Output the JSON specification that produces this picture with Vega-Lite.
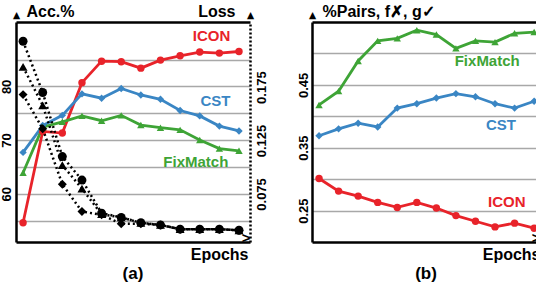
{
  "$schema": "https://vega.github.io/schema/vega-lite/v6.json",
  "padding": {"left": 0, "top": 3, "right": 0, "bottom": 0},
  "spacing": 28,
  "config": {
    "font": "Liberation Sans",
    "view": {"stroke": null},
    "axis": {
      "labelFont": "Liberation Sans", "labelFontWeight": "bold", "labelFontSize": 13, "labelColor": "black",
      "titleFont": "Liberation Sans", "titleFontWeight": "bold", "titleFontSize": 16, "titleColor": "black",
      "domainColor": "black", "domainWidth": 2.5, "ticks": false,
      "gridColor": "#a8a8a8", "gridWidth": 1.5
    },
    "title": {"font": "Liberation Sans", "fontWeight": "bold", "fontSize": 17, "color": "black"}
  },
  "datasets": {
    "main": [
      {"epoch": 1, "method": "ICON", "acc": 54.6, "loss": 0.218, "pairs": 0.301},
      {"epoch": 2, "method": "ICON", "acc": 71.6, "loss": 0.170, "pairs": 0.281},
      {"epoch": 3, "method": "ICON", "acc": 71.3, "loss": 0.110, "pairs": 0.273},
      {"epoch": 4, "method": "ICON", "acc": 80.7, "loss": 0.088, "pairs": 0.263},
      {"epoch": 5, "method": "ICON", "acc": 84.7, "loss": 0.057, "pairs": 0.255},
      {"epoch": 6, "method": "ICON", "acc": 84.6, "loss": 0.053, "pairs": 0.263},
      {"epoch": 7, "method": "ICON", "acc": 83.4, "loss": 0.048, "pairs": 0.254},
      {"epoch": 8, "method": "ICON", "acc": 84.9, "loss": 0.046, "pairs": 0.242},
      {"epoch": 9, "method": "ICON", "acc": 85.7, "loss": 0.042, "pairs": 0.233},
      {"epoch": 10, "method": "ICON", "acc": 86.4, "loss": 0.042, "pairs": 0.224},
      {"epoch": 11, "method": "ICON", "acc": 86.2, "loss": 0.042, "pairs": 0.230},
      {"epoch": 12, "method": "ICON", "acc": 86.5, "loss": 0.041, "pairs": 0.222},
      {"epoch": 1, "method": "CST", "acc": 67.7, "loss": 0.168, "pairs": 0.369},
      {"epoch": 2, "method": "CST", "acc": 72.7, "loss": 0.136, "pairs": 0.380},
      {"epoch": 3, "method": "CST", "acc": 74.6, "loss": 0.084, "pairs": 0.389},
      {"epoch": 4, "method": "CST", "acc": 78.6, "loss": 0.0585, "pairs": 0.383},
      {"epoch": 5, "method": "CST", "acc": 77.8, "loss": 0.0555, "pairs": 0.413},
      {"epoch": 6, "method": "CST", "acc": 79.6, "loss": 0.047, "pairs": 0.420},
      {"epoch": 7, "method": "CST", "acc": 78.4, "loss": 0.047, "pairs": 0.429},
      {"epoch": 8, "method": "CST", "acc": 77.6, "loss": 0.046, "pairs": 0.436},
      {"epoch": 9, "method": "CST", "acc": 75.5, "loss": 0.042, "pairs": 0.431},
      {"epoch": 10, "method": "CST", "acc": 74.5, "loss": 0.042, "pairs": 0.420},
      {"epoch": 11, "method": "CST", "acc": 72.6, "loss": 0.042, "pairs": 0.413},
      {"epoch": 12, "method": "CST", "acc": 71.7, "loss": 0.041, "pairs": 0.424},
      {"epoch": 1, "method": "FixMatch", "acc": 63.9, "loss": 0.194, "pairs": 0.418},
      {"epoch": 2, "method": "FixMatch", "acc": 72.4, "loss": 0.158, "pairs": 0.440},
      {"epoch": 3, "method": "FixMatch", "acc": 73.4, "loss": 0.102, "pairs": 0.488},
      {"epoch": 4, "method": "FixMatch", "acc": 74.5, "loss": 0.080, "pairs": 0.520},
      {"epoch": 5, "method": "FixMatch", "acc": 73.6, "loss": 0.056, "pairs": 0.524},
      {"epoch": 6, "method": "FixMatch", "acc": 74.6, "loss": 0.053, "pairs": 0.537},
      {"epoch": 7, "method": "FixMatch", "acc": 72.8, "loss": 0.048, "pairs": 0.530},
      {"epoch": 8, "method": "FixMatch", "acc": 72.3, "loss": 0.046, "pairs": 0.508},
      {"epoch": 9, "method": "FixMatch", "acc": 71.9, "loss": 0.042, "pairs": 0.520},
      {"epoch": 10, "method": "FixMatch", "acc": 70.0, "loss": 0.042, "pairs": 0.518},
      {"epoch": 11, "method": "FixMatch", "acc": 68.4, "loss": 0.042, "pairs": 0.532},
      {"epoch": 12, "method": "FixMatch", "acc": 68.0, "loss": 0.041, "pairs": 0.534}
    ],
    "labA": [
      {"method": "ICON", "epoch": 10.6, "acc": 89.3},
      {"method": "CST", "epoch": 10.8, "acc": 77.2},
      {"method": "FixMatch", "epoch": 9.8, "acc": 66.0}
    ],
    "labB": [
      {"method": "FixMatch", "epoch": 9.6, "pairs": 0.488},
      {"method": "CST", "epoch": 10.3, "pairs": 0.386},
      {"method": "ICON", "epoch": 10.6, "pairs": 0.264}
    ]
  },
  "hconcat": [
    {
      "width": 234, "height": 220,
      "title": {"text": "(a)", "orient": "bottom", "offset": 4},
      "layer": [
        {
          "data": {"name": "main"},
          "encoding": {
            "x": {"field": "epoch", "type": "quantitative",
                  "scale": {"domain": [0.64, 12.56], "nice": false, "zero": false},
                  "axis": {"orient": "bottom", "values": [12.56], "labelExpr": "'>'", "labelFontSize": 15, "labelAlign": "right", "labelBaseline": "middle",
                           "labelPadding": -5, "labelDx": 3, "labelFlush": false, "labelBound": false, "labelOverlap": false, "grid": false,
                           "title": "Epochs", "titleAnchor": "end", "titleAlign": "right",
                           "titleX": 232, "titleY": 4, "titleBaseline": "top", "titlePadding": 0}},
            "y": {"field": "acc", "type": "quantitative",
                  "scale": {"domain": [51, 92], "nice": false, "zero": false},
                  "axis": {"values": [55, 60, 65, 70, 75, 80, 85, 92],
                           "labelExpr": "datum.value > 91 ? '►' : (datum.value % 10 === 0 ? datum.label : '')",
                           "labelAngle": -90, "labelOverlap": false, "labelFlush": false, "labelBound": false,
                           "labelPadding": {"condition": {"test": "datum.value > 91", "value": -6}, "value": 3},
                           "labelOffset": {"condition": {"test": "datum.value > 91", "value": -7}, "value": 0},
                           "labelFontSize": {"condition": {"test": "datum.value > 91", "value": 12}, "value": 13},
                           "gridColor": {"condition": {"test": "datum.value > 91", "value": "black"}, "value": "#a8a8a8"},
                           "gridWidth": {"condition": {"test": "datum.value > 91", "value": 2.5}, "value": 1.5},
                           "title": "Acc.%", "titleAngle": 0, "titleAlign": "left",
                           "titleBaseline": "alphabetic", "titleX": 10, "titleY": -6}}
          },
          "layer": [
            {"mark": {"type": "line", "strokeWidth": 2.8},
             "encoding": {"color": {"field": "method", "type": "nominal", "scale": {"domain": ["ICON", "CST", "FixMatch"], "range": ["#e8232a", "#3a86c4", "#3ea436"]}, "legend": null},
                          "order": {"field": "epoch"}}},
            {"mark": {"type": "point", "filled": true, "opacity": 1, "size": 55},
             "encoding": {"color": {"field": "method", "type": "nominal", "legend": null},
                          "shape": {"field": "method", "type": "nominal", "scale": {"domain": ["ICON", "CST", "FixMatch"], "range": ["circle", "diamond", "triangle-up"]}, "legend": null}}},
            {"data": {"name": "labA"}, "mark": {"type": "text", "fontSize": 15, "fontWeight": "bold", "font": "Liberation Sans"},
             "encoding": {"text": {"field": "method"}, "color": {"field": "method", "type": "nominal", "legend": null}}}
          ]
        },
        {
          "data": {"name": "main"},
          "encoding": {
            "x": {"field": "epoch", "type": "quantitative"},
            "y": {"field": "loss", "type": "quantitative",
                  "scale": {"domain": [0.03, 0.236], "nice": false, "zero": false},
                  "axis": {"orient": "right", "values": [0.075, 0.125, 0.175, 0.236], "grid": false,
                           "labelExpr": "datum.value > 0.2 ? '►' : format(datum.value, '.3f')",
                           "labelAngle": -90, "labelOverlap": false, "labelFlush": false, "labelBound": false,
                           "labelPadding": {"condition": {"test": "datum.value > 0.2", "value": -6}, "value": 5},
                           "labelOffset": {"condition": {"test": "datum.value > 0.2", "value": -7}, "value": 0},
                           "labelFontSize": {"condition": {"test": "datum.value > 0.2", "value": 12}, "value": 13},
                           "domainDash": [2, 2],
                           "title": "Loss", "titleAngle": 0, "titleAlign": "right", "titleBaseline": "alphabetic",
                           "titleX": -15, "titleY": -6}},
            "detail": {"field": "method"}
          },
          "layer": [
            {"mark": {"type": "line", "color": "black", "strokeWidth": 2.5, "strokeDash": [2, 3]},
             "encoding": {"order": {"field": "epoch"}}},
            {"mark": {"type": "point", "filled": true, "opacity": 1, "color": "black", "size": 80},
             "encoding": {"shape": {"field": "method", "type": "nominal", "legend": null}}}
          ]
        }
      ],
      "resolve": {"scale": {"y": "independent"}}
    },
    {
      "width": 228, "height": 220,
      "title": {"text": "(b)", "orient": "bottom", "offset": 4},
      "data": {"name": "main"},
      "encoding": {
        "x": {"field": "epoch", "type": "quantitative",
              "scale": {"domain": [0.64, 12.3], "nice": false, "zero": false},
              "axis": {"orient": "bottom", "values": [12.3], "labelExpr": "'>'", "labelFontSize": 15, "labelAlign": "right", "labelBaseline": "middle",
                       "labelPadding": -5, "labelDx": 3, "labelFlush": false, "labelBound": false, "labelOverlap": false, "grid": false,
                       "title": "Epochs", "titleAnchor": "end", "titleAlign": "right",
                       "titleX": 228, "titleY": 4, "titleBaseline": "top", "titlePadding": 0}},
        "y": {"field": "pairs", "type": "quantitative",
              "scale": {"domain": [0.2, 0.55], "nice": false, "zero": false},
              "axis": {"values": [0.25, 0.3, 0.35, 0.4, 0.45, 0.5, 0.55],
                       "labelExpr": "datum.value > 0.54 ? '►' : (round(datum.value * 100) % 10 === 5 ? format(datum.value, '.2f') : '')",
                       "labelAngle": -90, "labelOverlap": false, "labelFlush": false, "labelBound": false,
                       "labelPadding": {"condition": {"test": "datum.value > 0.54", "value": -6}, "value": 2},
                       "labelOffset": {"condition": {"test": "datum.value > 0.54", "value": -7}, "value": 0},
                       "labelFontSize": {"condition": {"test": "datum.value > 0.54", "value": 12}, "value": 13},
                       "gridColor": {"condition": {"test": "datum.value > 0.54", "value": "black"}, "value": "#a8a8a8"},
                       "gridWidth": {"condition": {"test": "datum.value > 0.54", "value": 2.5}, "value": 1.5},
                       "title": "%Pairs, f✗, g✓", "titleAngle": 0, "titleAlign": "left",
                       "titleBaseline": "alphabetic", "titleX": 10, "titleY": -6}}
      },
      "layer": [
        {"mark": {"type": "line", "strokeWidth": 2.8},
         "encoding": {"color": {"field": "method", "type": "nominal", "scale": {"domain": ["ICON", "CST", "FixMatch"], "range": ["#e8232a", "#3a86c4", "#3ea436"]}, "legend": null},
                      "order": {"field": "epoch"}}},
        {"mark": {"type": "point", "filled": true, "opacity": 1, "size": 55},
         "encoding": {"color": {"field": "method", "type": "nominal", "legend": null},
                      "shape": {"field": "method", "type": "nominal", "scale": {"domain": ["ICON", "CST", "FixMatch"], "range": ["circle", "diamond", "triangle-up"]}, "legend": null}}},
        {"data": {"name": "labB"}, "mark": {"type": "text", "fontSize": 15, "fontWeight": "bold", "font": "Liberation Sans"},
         "encoding": {"text": {"field": "method"}, "color": {"field": "method", "type": "nominal", "legend": null}}}
      ]
    }
  ]
}
